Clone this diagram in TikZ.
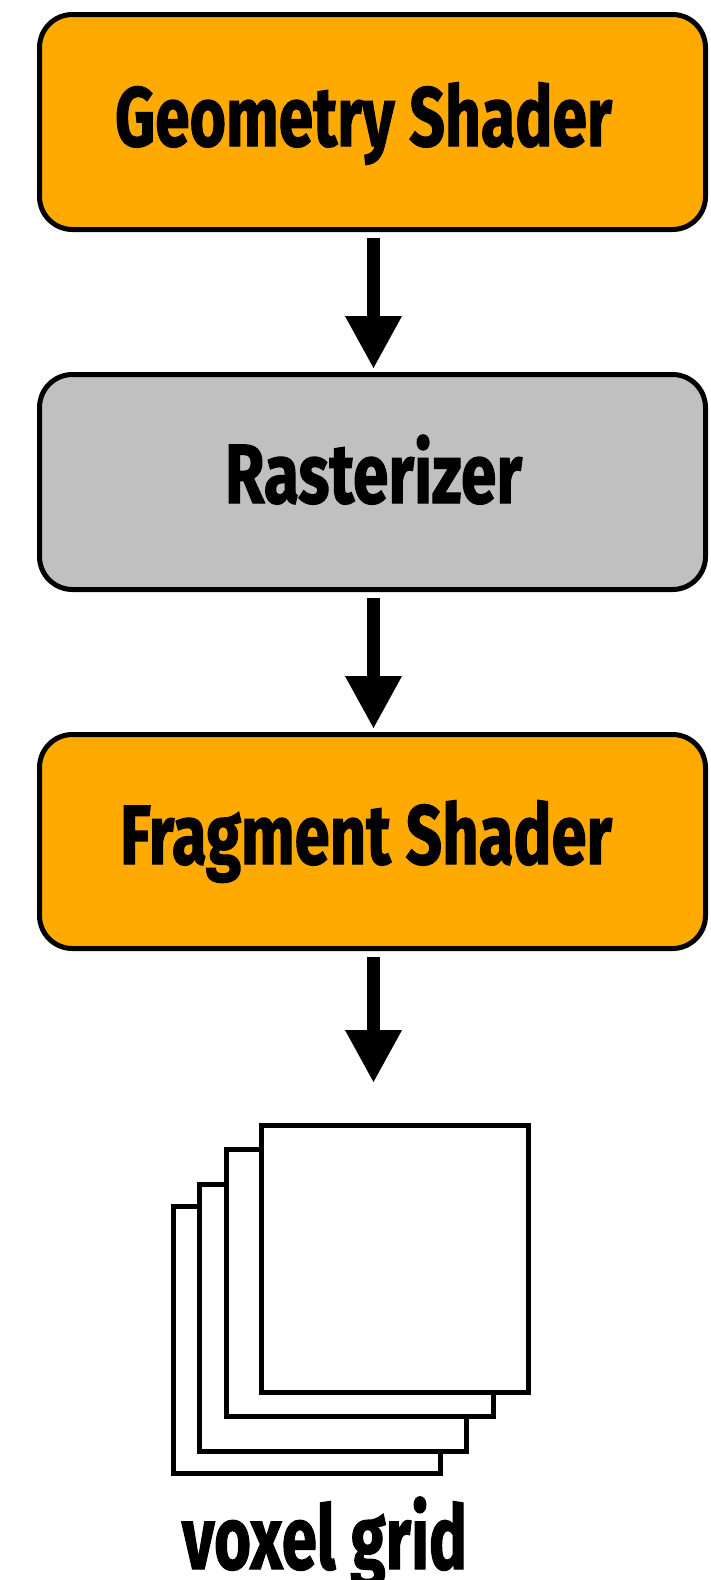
\documentclass[tikz,border=0pt]{standalone}
\usepackage{fontspec}
\usepackage{graphicx}
\newfontfamily\labfont{Fira Sans}[BoldFeatures={FakeBold=1.6}]
\usetikzlibrary{arrows.meta}
\definecolor{shaderorange}{HTML}{FFAA00}
\definecolor{rastergray}{HTML}{C0C0C0}
\tikzset{
  stagebox/.style={draw=black, line width=5pt, rounded corners=33pt,
    minimum width=666pt, inner sep=0pt, outer sep=2.5pt},
  sheet/.style={draw=black, fill=white, line width=5pt, minimum width=267pt,
    minimum height=267pt, inner sep=0pt, outer sep=2.5pt},
  flow/.style={line width=13pt, -{Triangle[width=53pt,length=53pt]},
    shorten <=6pt, shorten >=3pt},
  lbl/.style={anchor=base, inner sep=0pt, text=black}
}
\newcommand{\boxlabel}[2]{\resizebox{#1}{\height}{\labfont\bfseries\fontsize{84}{90}\selectfont #2}}
\begin{document}
\begin{tikzpicture}[x=1pt, y=-1pt]
  \useasboundingbox (0,0) rectangle (711,1580);
  % stage boxes
  \node[stagebox, fill=shaderorange, minimum height=215pt] (geo) at (372.5,122) {};
  \node[stagebox, fill=rastergray, minimum height=215pt] (ras) at (372.5,482) {};
  \node[stagebox, fill=shaderorange, minimum height=214pt] (frag) at (372.5,841.5) {};
  % labels
  \node[lbl] (geotxt) at (363.5,146) {\boxlabel{497pt}{Geometry Shader}};
  \node[lbl] (rastxt) at (373.5,503) {\boxlabel{297pt}{Rasterizer}};
  \node[lbl] (fragtxt) at (366,864) {\boxlabel{492pt}{Fragment Shader}};
  % arrows
  \coordinate (a1s) at (373.5,232);
  \coordinate (a1e) at (373.5,372);
  \coordinate (a2s) at (373.5,592);
  \coordinate (a2e) at (373.5,732);
  \coordinate (a3s) at (373.5,951);
  \coordinate (gridtop) at (373.5,1086);
  \draw[flow] (a1s) -- (a1e);
  \draw[flow] (a2s) -- (a2e);
  \draw[flow] (a3s) -- (gridtop);
  % voxel grid sheets (back to front)
  \node[sheet] (s1) at (307,1339.5) {};
  \node[sheet] (s2) at (333.4,1317.9) {};
  \node[sheet] (s3) at (359.9,1283.2) {};
  \node[sheet] (s4) at (395.2,1259.2) {};
  \node[lbl] (gridtxt) at (324.5,1569) {\resizebox{285pt}{\height}{\labfont\bfseries\fontsize{89}{95}\selectfont voxel grid}};
\end{tikzpicture}
\end{document}
